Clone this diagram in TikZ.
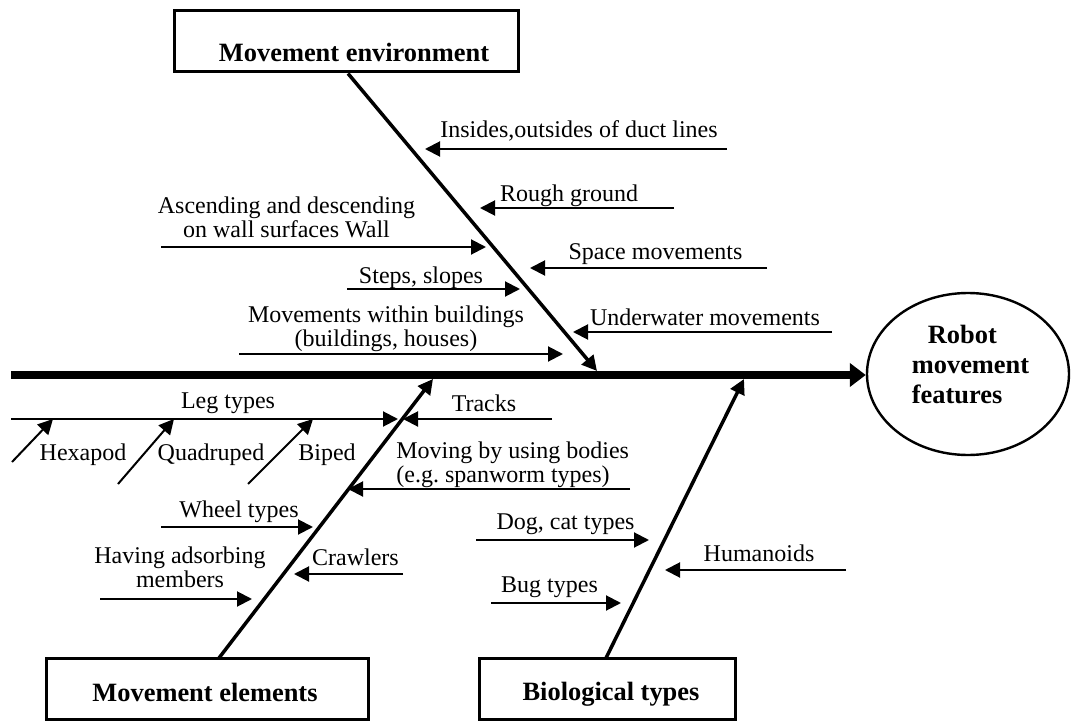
\documentclass[tikz,border=0pt]{standalone}
\usepackage{fontspec}
\setmainfont{Liberation Serif}
\usetikzlibrary{arrows.meta,shapes.geometric}
\frenchspacing
\begin{document}
\begin{tikzpicture}[x=0.5pt,y=-0.5pt,
  lbl/.style={font=\fontsize{12}{12}\selectfont, inner sep=0pt, align=center},
  catbox/.style={draw, line width=1.5pt, inner sep=0pt},
  cattext/.style={font=\fontsize{13.2}{15}\selectfont\bfseries, inner sep=0pt},
  spine/.style={line width=4pt, -{Triangle[length=8pt,width=11.5pt]}},
  branch/.style={line width=1.75pt, -{Triangle[length=7.5pt,width=7.5pt]}},
  cause/.style={line width=1pt, -{Triangle[length=7.5pt,width=7.5pt]}},
]
\useasboundingbox (0,0) rectangle (1072,722);

% category boxes
\node[catbox, minimum width=172pt, minimum height=30.5pt] (envbox) at (346.5,41) {};
\node[cattext] (envtext) at (354,52) {Movement environment};
\node[catbox, minimum width=161pt, minimum height=30.5pt] (elembox) at (207.5,689) {};
\node[cattext] (elemtext) at (205,692) {Movement elements};
\node[catbox, minimum width=128pt, minimum height=30.5pt] (biobox) at (607.5,689) {};
\node[cattext] (biotext) at (611,694) {Biological types};

% goal
\node[draw, ellipse, line width=1.2pt, minimum width=101pt, minimum height=81pt, inner sep=0pt] (goal) at (968,374) {};
\node[font=\fontsize{13.2}{15}\selectfont\bfseries, align=left, inner sep=0pt] (goaltext) at (970.5,365) {\hspace*{8pt}Robot\\movement\\features};

% spine
\coordinate (spinestart) at (11,375);
\draw[spine] (spinestart) -- (spinestart -| goal.west);

% main branches
\coordinate (envroot) at (348,73.5);
\coordinate (envtip) at (597,371);
\draw[branch] (envroot) -- (envtip);
\coordinate (elemroot) at (219,658);
\coordinate (elemtip) at (433,379);
\draw[branch] (elemroot) -- (elemtip);
\coordinate (bioroot) at (606,658);
\coordinate (biotip) at (744,379);
\draw[branch] (bioroot) -- (biotip);

% movement environment causes
\coordinate (c1s) at (727,149); \coordinate (c1t) at (425,149);
\draw[cause] (c1s) -- (c1t);
\node[lbl] (l1) at (579,130.5) {Insides,outsides of duct lines};
\coordinate (c2s) at (674,208); \coordinate (c2t) at (480,208);
\draw[cause] (c2s) -- (c2t);
\node[lbl] (l2) at (569,195.4) {Rough ground};
\coordinate (c3s) at (767,268); \coordinate (c3t) at (530,268);
\draw[cause] (c3s) -- (c3t);
\node[lbl] (l3) at (655.5,254.4) {Space movements};
\coordinate (c4s) at (832,332); \coordinate (c4t) at (573,332);
\draw[cause] (c4s) -- (c4t);
\node[lbl] (l4) at (705,316.8) {Underwater movements};
\coordinate (c5s) at (161,247); \coordinate (c5t) at (486,247);
\draw[cause] (c5s) -- (c5t);
\node[lbl] (l5) at (286.5,217.8) {Ascending and descending\\on wall surfaces Wall};
\coordinate (c6s) at (347,289); \coordinate (c6t) at (520,289);
\draw[cause] (c6s) -- (c6t);
\node[lbl] (l6) at (421,277.4) {Steps, slopes};
\coordinate (c7s) at (239,354); \coordinate (c7t) at (563,354);
\draw[cause] (c7s) -- (c7t);
\node[lbl] (l7) at (386,328.4) {Movements within buildings\\(buildings, houses)};

% movement elements causes
\coordinate (c8s) at (11,419); \coordinate (c8t) at (398,419);
\draw[cause] (c8s) -- (c8t);
\node[lbl] (l8) at (228,403.4) {Leg types};
\coordinate (c9s) at (552,419); \coordinate (c9t) at (403,419);
\draw[cause] (c9s) -- (c9t);
\node[lbl] (l9) at (484,403.5) {Tracks};
\coordinate (c10s) at (12,462); \coordinate (c10t) at (53,419);
\draw[cause] (c10s) -- (c10t);
\node[lbl] (l10) at (83,454.4) {Hexapod};
\coordinate (c11s) at (118,484); \coordinate (c11t) at (174,419);
\draw[cause] (c11s) -- (c11t);
\node[lbl] (l11) at (211,454.4) {Quadruped};
\coordinate (c12s) at (248,484); \coordinate (c12t) at (313,419);
\draw[cause] (c12s) -- (c12t);
\node[lbl] (l12) at (327,454.4) {Biped};
\coordinate (c13s) at (630,489); \coordinate (c13t) at (348,489);
\draw[cause] (c13s) -- (c13t);
\node[lbl, align=left, anchor=west] (l13) at (396,464.4) {Moving by using bodies\\(e.g. spanworm types)};
\coordinate (c14s) at (161,527); \coordinate (c14t) at (313,527);
\draw[cause] (c14s) -- (c14t);
\node[lbl] (l14) at (239,511.4) {Wheel types};
\coordinate (c15s) at (403,574); \coordinate (c15t) at (294,574);
\draw[cause] (c15s) -- (c15t);
\node[lbl] (l15) at (355.5,556.8) {Crawlers};
\coordinate (c16s) at (100,599); \coordinate (c16t) at (252,599);
\draw[cause] (c16s) -- (c16t);
\node[lbl] (l16) at (180,567.6) {Having adsorbing\\members};

% biological types causes
\coordinate (c17s) at (476,540); \coordinate (c17t) at (649,540);
\draw[cause] (c17s) -- (c17t);
\node[lbl] (l17) at (565.5,524.4) {Dog, cat types};
\coordinate (c18s) at (846,570); \coordinate (c18t) at (665,570);
\draw[cause] (c18s) -- (c18t);
\node[lbl] (l18) at (759,553.5) {Humanoids};
\coordinate (c19s) at (491,603); \coordinate (c19t) at (621,603);
\draw[cause] (c19s) -- (c19t);
\node[lbl] (l19) at (549.5,587.4) {Bug types};
\end{tikzpicture}
\end{document}
